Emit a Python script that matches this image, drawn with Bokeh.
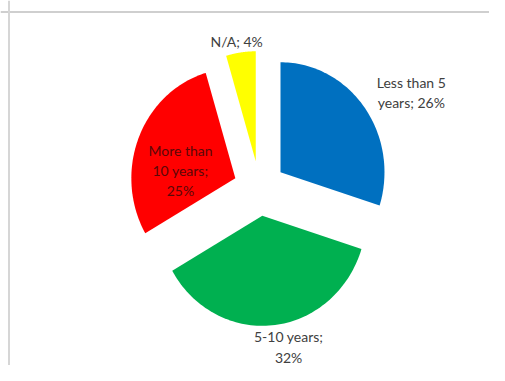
import numpy as np
from bokeh.plotting import figure
from bokeh.models import Range1d, Span, ColumnDataSource
from bokeh.core.properties import value
from bokeh.embed import file_html
from bokeh.resources import INLINE

# ---- data ----
categories = ["Less than 5 years", "5-10 years", "More than 10 years", "N/A"]
values = [26, 32, 25, 4]
label_text = ["Less than 5\nyears; 26%", "5-10 years;\n32%", "More than\n10 years;\n25%", "N/A; 4%"]
colors = ["#0070C0", "#00B050", "#FF0000", "#FFFF00"]

# ---- layout constants (label anchors, in pie-radius units) ----
label_x = [1.46, 0.28, -0.76, -0.22]
label_y = [0.873, -1.441, 0.164, 1.336]
label_colors = ["#404040", "#404040", "#5a0808", "#404040"]
explode = 0.25

W, H = 489, 365
sx, sy = 104.0, 110.0          # pixels per unit radius (x, y)
cx_px, cy_px = 259.0, 188.0    # pie centre inside the figure, pixels
x0 = -cx_px / sx
x1 = (W - cx_px) / sx
y1 = cy_px / sy
y0 = -(H - cy_px) / sy

p = figure(width=W, height=H, x_range=Range1d(x0, x1), y_range=Range1d(y0, y1),
           x_axis_type=None, y_axis_type=None, output_backend="svg",
           toolbar_location=None, min_border=0)
p.outline_line_color = None
p.background_fill_color = "white"
p.border_fill_color = "white"

total = float(sum(values))
start = np.pi / 2
xs, ys = [], []
for v in values:
    span = 2 * np.pi * v / total
    a0, a1 = start, start - span
    mid = (a0 + a1) / 2
    ox, oy = explode * np.cos(mid), explode * np.sin(mid)
    t = np.linspace(a0, a1, 80)
    xs.append(list(np.concatenate([[ox], ox + np.cos(t)])))
    ys.append(list(np.concatenate([[oy], oy + np.sin(t)])))
    start = a1

src = ColumnDataSource(dict(xs=xs, ys=ys, color=colors, cat=categories))
p.patches("xs", "ys", source=src, fill_color="color", line_color=None)

lsrc = ColumnDataSource(dict(x=label_x, y=label_y, text=label_text, c=label_colors))
p.text("x", "y", text="text", source=lsrc, text_align="center", text_baseline="middle",
       text_font=value("Lato"), text_font_size="14px", text_color="c", text_line_height=1.2)

# chart-area border (top and left edges visible)
p.add_layout(Span(location=y1 - 11.5 / sy, dimension="width", line_color="#cfcfcf", line_width=2))
p.add_layout(Span(location=x0 + 8.5 / sx, dimension="height", line_color="#d6d6d6", line_width=2))

open("out.html", "w").write(file_html(p, INLINE))
